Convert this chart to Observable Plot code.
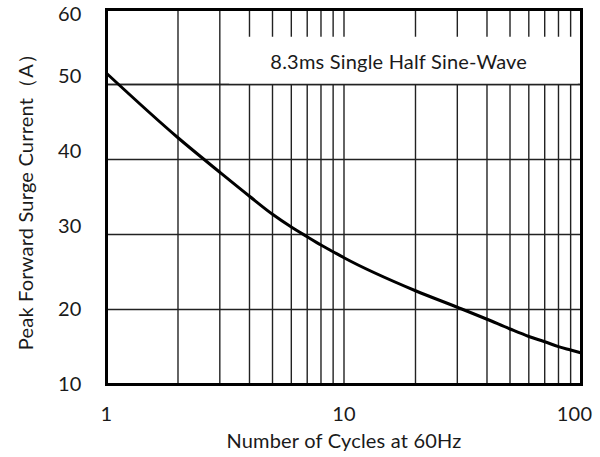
<!DOCTYPE html>
<html>
<head>
<meta charset="utf-8">
<script src="https://cdn.jsdelivr.net/npm/d3@7"></script>
<script src="https://cdn.jsdelivr.net/npm/@observablehq/plot@0.6"></script>
<style>
  html, body { margin: 0; padding: 0; background: #fff; }
  #chart svg { display: block; }
</style>
</head>
<body>
<div id="chart"></div>
<script>
// Data
const cycles  = [1, 2, 3, 4, 5, 6, 7, 8, 9, 10, 20, 30, 40, 50, 60, 70, 80, 90, 100];
const current = [51.5, 42.9, 38.3, 35.1, 32.7, 31.0, 29.7, 28.6, 27.7, 26.9, 22.5, 20.3, 18.7, 17.4, 16.4, 15.7, 15.05, 14.6, 14.2];

const xTickLabels = [1, 10, 100];
const xGridValues = [1, 2, 3, 4, 5, 6, 7, 8, 9, 10, 20, 30, 40, 50, 60, 70, 80, 90, 100];
const yTickValues = [10, 20, 30, 40, 50, 60];

const xTitle = "Number of Cycles at 60Hz";
const yTitle = "Peak Forward Surge Current\uFF08A\uFF09";
const noteText = "8.3ms Single Half Sine-Wave";
// note box extent in data units (cycles, amperes)
const noteBox = [{x1: 3.3, x2: 97, y1: 50, y2: 56.3, cx: 17, cy: 52.9, label: noteText}];

const data = cycles.map((c, i) => ({cycles: c, current: current[i]}));

const font = "Lato, 'Open Sans', sans-serif";
const ink = "#1a1a1a";
const fs = 20;

const chart = Plot.plot({
  width: 600,
  height: 457,
  marginLeft: 106,
  marginRight: 19,
  marginTop: 9,
  marginBottom: 73,
  style: {fontFamily: font, fontSize: fs + "px", color: ink, background: "#fff", letterSpacing: "0.2px"},
  x: {type: "log", domain: [1, 100]},
  y: {type: "linear", domain: [10, 60]},
  marks: [
    Plot.ruleX(xGridValues, {stroke: "#222", strokeWidth: 1.4}),
    Plot.ruleY(yTickValues, {stroke: "#222", strokeWidth: 1.4}),
    Plot.rect(noteBox, {x1: "x1", x2: "x2", y1: "y1", y2: "y2", fill: "white"}),
    Plot.ruleY([50], {stroke: "#222", strokeWidth: 1.4}),
    Plot.text(noteBox, {x: "cx", y: "cy", text: "label", fontSize: fs, fill: ink}),
    Plot.line(data, {x: "cycles", y: "current", curve: "monotone-x", stroke: "#000", strokeWidth: 3}),
    Plot.frame({stroke: "#000", strokeWidth: 3}),
    Plot.axisX({
      ticks: xTickLabels.slice(0, 2), tickFormat: d => String(d), tickSize: 0, tickPadding: 22,
      label: xTitle, labelAnchor: "center", labelOffset: 63, labelArrow: "none", fontSize: fs
    }),
    Plot.axisX({
      ticks: xTickLabels.slice(2), tickFormat: d => String(d), tickSize: 0, tickPadding: 22,
      label: null, dx: -7, fontSize: fs
    }),
    Plot.axisY({
      ticks: yTickValues.slice(0, 2), tickSize: 0, tickPadding: 25,
      label: yTitle, labelAnchor: "center", labelOffset: 88, labelArrow: "none", fontSize: fs
    }),
    Plot.axisY({
      ticks: yTickValues.slice(2, 5), tickSize: 0, tickPadding: 25, dy: -8,
      label: null, fontSize: fs
    }),
    Plot.axisY({
      ticks: yTickValues.slice(5), tickSize: 0, tickPadding: 25, dy: 5,
      label: null, fontSize: fs
    })
  ]
});

document.getElementById("chart").appendChild(chart);
</script>
</body>
</html>
